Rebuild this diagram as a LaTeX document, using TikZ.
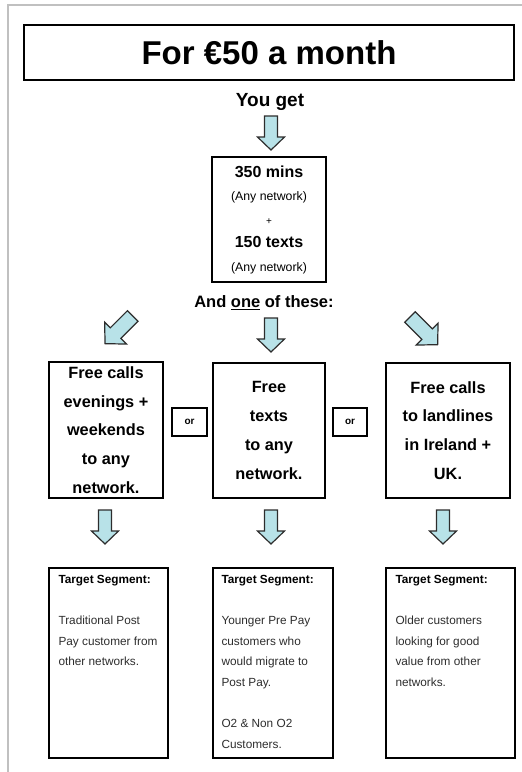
\documentclass[tikz,border=0pt]{standalone}
\usepackage{fontspec}
\setmainfont{Liberation Sans}
\usepackage{tikz}
\usetikzlibrary{positioning, calc}
\definecolor{arrowfill}{RGB}{184,226,232}
\definecolor{arrowline}{RGB}{45,45,45}
\definecolor{pagerule}{RGB}{192,192,192}
\definecolor{bodytext}{RGB}{45,45,45}

\tikzset{
  arrowbody/.style={draw=arrowline, fill=arrowfill, line width=1.2pt},
  pics/fatarrow/.style={code={
    \draw[arrowbody] (-6.5,0) -- (-6.5,21) -- (-13.5,21) -- (0,34)
      -- (13.5,21) -- (6.5,21) -- (6.5,0) -- cycle;
  }},
}

\begin{document}
\begin{tikzpicture}[x=1pt, y=-1pt,
  box/.style={draw, line width=1.4pt, inner sep=0pt, align=center},
  offer/.style={box, font=\fontsize{16.3}{28.7}\selectfont\bfseries},
  orbox/.style={box, minimum width=35pt, minimum height=28pt,
                font=\fontsize{10}{12}\selectfont\bfseries},
  segbox/.style={box, minimum height=190pt},
  segtext/.style={anchor=north west, align=left, inner sep=0pt,
                  font=\fontsize{11.8}{20.6}\selectfont, color=bodytext},
]
  \useasboundingbox (0,0) rectangle (522,772);

  % Page edge
  \draw[pagerule, line width=1.3pt] (522,5) -- (8,5) -- (8,772);

  % Heading
  \node[box, minimum width=490pt, minimum height=55pt] (title) at (269,52.5)
    {\fontsize{33}{40}\selectfont\bfseries For €50 a month};
  \node[font=\fontsize{19}{22}\selectfont\bfseries] (youget) at (270,102) {You get};
  \pic at (271,116) {fatarrow};

  % Bundle
  \node[box, minimum width=114pt, minimum height=125pt,
        font=\fontsize{12.3}{23.5}\selectfont] (mins) at (269,219.5) {
    {\fontsize{16}{23.5}\selectfont\bfseries 350 mins}\\
    (Any network)\\
    {\fontsize{10}{23.5}\selectfont +}\\
    {\fontsize{16}{23.5}\selectfont\bfseries 150 texts}\\
    (Any network)
  };

  \node[font=\fontsize{16.5}{20}\selectfont\bfseries] (oneof) at (264,303)
    {And \underline{one} of these:};
  \pic[rotate=-45, scale=1.15] at (132.7,316) {fatarrow};
  \pic at (271,318) {fatarrow};
  \pic[rotate=45, scale=1.15] at (410,317) {fatarrow};

  % Options
  \node[offer, minimum width=114pt, minimum height=136pt] (freeL) at (106,430)
    {Free calls\\ evenings +\\ weekends\\ to any\\ network.};
  \node[offer, minimum width=112pt, minimum height=135pt] (freeM) at (269,430.5)
    {Free\\ texts\\ to any\\ network.};
  \node[offer, minimum width=124pt, minimum height=135pt] (freeR) at (448,430.5)
    {Free calls\\ to landlines\\ in Ireland +\\ UK.};
  \node[orbox] (orL) at (189.5,422) {or};
  \node[orbox, minimum width=34pt] (orR) at (350,422) {or};

  \pic at (105,510) {fatarrow};
  \pic at (271,510) {fatarrow};
  \pic at (443,510) {fatarrow};

  % Target segments
  \node[segbox, minimum width=119pt] (segL) at (108.5,663) {};
  \node[segbox, minimum width=120pt] (segM) at (273,663) {};
  \node[segbox, minimum width=129pt] (segR) at (450.5,663) {};

  \node[segtext] (segLtext) at ($(segL.north west)+(10,7.7)$) {
    {\color{black}\bfseries Target Segment:}\\[20.6pt]
    Traditional Post\\ Pay customer from\\ other networks.
  };
  \node[segtext] (segMtext) at ($(segM.north west)+(9,7.7)$) {
    {\color{black}\bfseries Target Segment:}\\[20.6pt]
    Younger Pre Pay\\ customers who\\ would migrate to\\ Post Pay.\\[20.6pt]
    O2 \& Non O2\\ Customers.
  };
  \node[segtext] (segRtext) at ($(segR.north west)+(10,7.7)$) {
    {\color{black}\bfseries Target Segment:}\\[20.6pt]
    Older customers\\ looking for good\\ value from other\\ networks.
  };
\end{tikzpicture}
\end{document}
